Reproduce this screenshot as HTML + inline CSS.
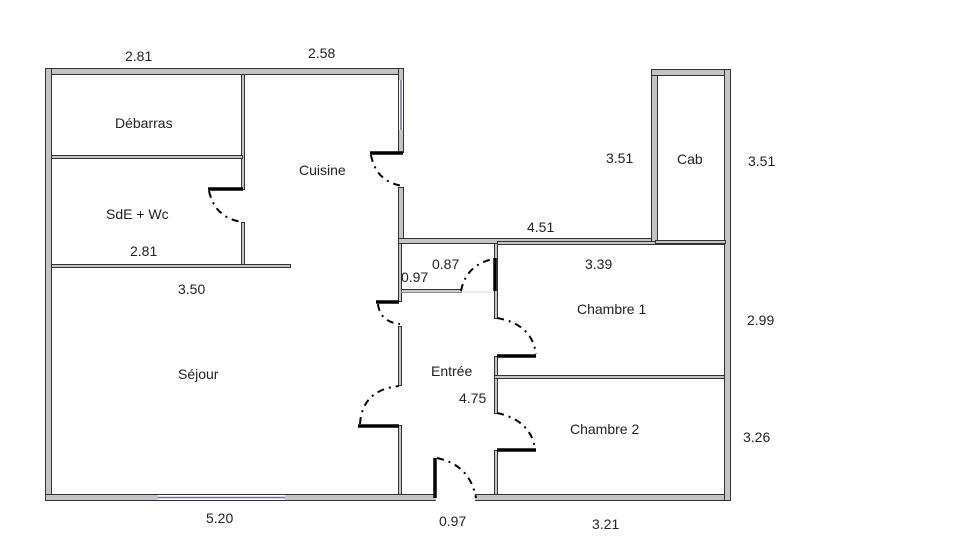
<!DOCTYPE html>
<html><head><meta charset="utf-8"><style>
html,body{margin:0;padding:0;background:#fff;}
svg{display:block;}
text{font-family:"Liberation Sans",sans-serif;font-size:14px;fill:#222;}
</style></head><body>
<svg width="964" height="541" viewBox="0 0 964 541" xmlns="http://www.w3.org/2000/svg">
<g fill="#c4c4c4" stroke="#333" stroke-width="1">
<!-- outer -->
<rect x="45.5" y="68.5" width="358" height="6"/>
<rect x="45.5" y="68.5" width="6" height="432"/>
<rect x="45.5" y="494.5" width="685" height="6"/>
<rect x="398.5" y="68.5" width="5" height="84"/>
<rect x="398.5" y="187.5" width="5" height="56"/>
<rect x="398.5" y="238.5" width="258" height="5"/>
<rect x="651.5" y="69.5" width="6" height="174"/>
<rect x="651.5" y="69.5" width="79" height="6"/>
<rect x="724.5" y="69.5" width="6" height="431"/>
<!-- inner -->
<rect x="241.5" y="74.5" width="3" height="115"/>
<rect x="241.5" y="222.5" width="3" height="44"/>
<rect x="51.5" y="155.5" width="191" height="3"/>
<rect x="51.5" y="264.5" width="239" height="3"/>
<rect x="398.5" y="243.5" width="3" height="58"/>
<rect x="398.5" y="326.5" width="3" height="59"/>
<rect x="398.5" y="425.5" width="3" height="69"/>
<rect x="401.5" y="289.5" width="60" height="3"/>
<rect x="494.5" y="243.5" width="3" height="75"/>
<rect x="494.5" y="356.5" width="3" height="57"/>
<rect x="494.5" y="375.5" width="230" height="3"/>
<rect x="494.5" y="450.5" width="3" height="44"/>
<rect x="497.5" y="241.5" width="227" height="3"/>
<rect x="655.5" y="240.5" width="70" height="3"/>
</g>
<!-- openings cleared -->
<g fill="#fff">
<rect x="436" y="494" width="39" height="8"/>
<rect x="158" y="495" width="127" height="5"/>
<rect x="399" y="80" width="4" height="50"/>
</g>
<!-- windows -->
<g stroke="#6a6ab0" stroke-width="1.5">
<line x1="158" y1="497.5" x2="285" y2="497.5"/>
<line x1="401" y1="80" x2="401" y2="130"/>
</g>
<!-- door leaves -->
<g stroke="#000" stroke-width="3.5" stroke-linecap="butt">
<line x1="370" y1="153" x2="403" y2="153"/>
<line x1="208" y1="189" x2="243" y2="189"/>
<line x1="376" y1="302" x2="399" y2="302"/>
<line x1="358" y1="426" x2="399" y2="426"/>
<line x1="495" y1="258" x2="495" y2="291"/>
<line x1="497" y1="356" x2="536" y2="356"/>
<line x1="497" y1="450" x2="536" y2="450"/>
<line x1="435" y1="458" x2="435" y2="498"/>
</g>
<!-- door arcs -->
<g fill="none" stroke="#000" stroke-width="2" stroke-dasharray="7,5,2,5">
<path d="M371 155 Q376 182 403 186"/>
<path d="M209 191 Q215 218 242 222"/>
<path d="M378 304 Q380 322 400 324"/>
<path d="M360 424 Q362 390 399 386"/>
<path d="M461 291 Q466 265 493 259"/>
<path d="M497 318 Q532 324 536 354"/>
<path d="M497 413 Q530 420 535 448"/>
<path d="M437 458 Q470 465 476 498"/>
</g>
<g stroke="#ddd" stroke-width="1">
<line x1="401" y1="292" x2="494" y2="292"/>
</g>
<!-- labels -->
<text x="125" y="61">2.81</text>
<text x="308" y="58">2.58</text>
<text x="115" y="128">Débarras</text>
<text x="299" y="175">Cuisine</text>
<text x="106" y="219">SdE + Wc</text>
<text x="130" y="256">2.81</text>
<text x="178" y="294">3.50</text>
<text x="178" y="379">Séjour</text>
<text x="606" y="163">3.51</text>
<text x="677" y="164">Cab</text>
<text x="748" y="166">3.51</text>
<text x="527" y="232">4.51</text>
<text x="432" y="269">0.87</text>
<text x="401" y="282">0.97</text>
<text x="585" y="269">3.39</text>
<text x="577" y="314">Chambre 1</text>
<text x="747" y="325">2.99</text>
<text x="431" y="376">Entrée</text>
<text x="459" y="403">4.75</text>
<text x="570" y="434">Chambre 2</text>
<text x="743" y="442">3.26</text>
<text x="206" y="523">5.20</text>
<text x="439" y="526">0.97</text>
<text x="592" y="529">3.21</text>
</svg>
</body></html>
